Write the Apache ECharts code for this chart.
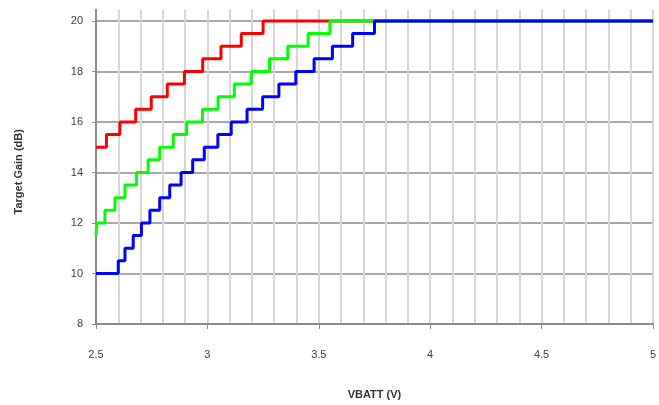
<!DOCTYPE html>
<html>
<head>
<meta charset="utf-8">
<script src="https://cdn.jsdelivr.net/npm/echarts@6/dist/echarts.min.js"></script>
<style>html,body{margin:0;padding:0;background:#fff}#c{width:659px;height:405px}</style>
</head>
<body>
<div id="c"></div>
<script>
// Step curves: each point = (VBATT where level starts, target gain)
var redV   = [2.5, 2.547, 2.607, 2.678, 2.748, 2.820, 2.897, 2.979, 3.061, 3.152, 3.250, 5.0];
var redG   = [15, 15.5, 16, 16.5, 17, 17.5, 18, 18.5, 19, 19.5, 20, 20];
var greenV = [2.5, 2.503, 2.540, 2.585, 2.630, 2.682, 2.734, 2.786, 2.847, 2.907, 2.978, 3.048, 3.121, 3.197, 3.279, 3.361, 3.452, 3.550, 5.0];
var greenG = [11.5, 12, 12.5, 13, 13.5, 14, 14.5, 15, 15.5, 16, 16.5, 17, 17.5, 18, 18.5, 19, 19.5, 20, 20];
var blueV  = [2.5, 2.600, 2.630, 2.667, 2.704, 2.742, 2.786, 2.831, 2.882, 2.934, 2.986, 3.047, 3.107, 3.178, 3.248, 3.321, 3.397, 3.479, 3.561, 3.652, 3.750, 5.0];
var blueG  = [10, 10.5, 11, 11.5, 12, 12.5, 13, 13.5, 14, 14.5, 15, 15.5, 16, 16.5, 17, 17.5, 18, 18.5, 19, 19.5, 20, 20];
var yTicks = [8, 10, 12, 14, 16, 18, 20];
var xTicks = [2.5, 3, 3.5, 4, 4.5, 5];

function pairs(xs, ys) { return xs.map(function (x, i) { return [x, ys[i]]; }); }

var chart = echarts.init(document.getElementById('c'), null, { renderer: 'canvas' });
var font = 'Liberation Sans, Arial, sans-serif';
chart.setOption({
  animation: false,
  backgroundColor: '#ffffff',
  grid: { left: 96, right: 5, top: 9.6, bottom: 80, containLabel: false },
  xAxis: {
    type: 'value', min: 2.5, max: 5, interval: 0.5,
    name: 'VBATT (V)', nameLocation: 'middle', nameGap: 65,
    nameTextStyle: { fontFamily: font, fontSize: 11, fontWeight: 'bold', color: '#333' },
    axisLine: { show: true, onZero: false, lineStyle: { color: '#8c8c8c', width: 2 } },
    axisTick: { show: true, length: 5, lineStyle: { color: '#8c8c8c' } },
    axisLabel: { margin: 25, fontFamily: font, fontSize: 11, color: '#404040',
      customValues: xTicks },
    splitLine: { show: true, lineStyle: { color: '#d6d6d6', width: 2 } },
    minorTick: { show: false, splitNumber: 5 },
    minorSplitLine: { show: true, lineStyle: { color: '#d6d6d6', width: 2 } }
  },
  yAxis: {
    type: 'value', min: 8, max: 20.45, interval: 2,
    name: 'Target Gain (dB)', nameLocation: 'middle', nameGap: 72, nameRotate: 90,
    nameTextStyle: { fontFamily: font, fontSize: 11, fontWeight: 'bold', color: '#333',
      padding: [0, 10, 0, 0] },
    axisLine: { show: true, onZero: false, lineStyle: { color: '#8c8c8c', width: 2 } },
    axisTick: { show: true, length: 4, lineStyle: { color: '#8c8c8c' }, customValues: yTicks },
    axisLabel: { margin: 13, fontFamily: font, fontSize: 11, color: '#404040',
      customValues: yTicks },
    splitLine: { show: true, showMinLine: false,
      lineStyle: { color: '#a8a8a8', width: 2 } }
  },
  series: [
    { type: 'line', step: 'end', data: pairs(redV, redG), symbol: 'none',
      lineStyle: { color: '#ff0000', width: 3 }, z: 2 },
    { type: 'line', step: 'end', data: pairs(greenV, greenG), symbol: 'none',
      lineStyle: { color: '#00ff00', width: 3 }, z: 3 },
    { type: 'line', step: 'end', data: pairs(blueV, blueG), symbol: 'none',
      lineStyle: { color: '#0000ff', width: 3 }, z: 4 }
  ]
});
</script>
</body>
</html>
